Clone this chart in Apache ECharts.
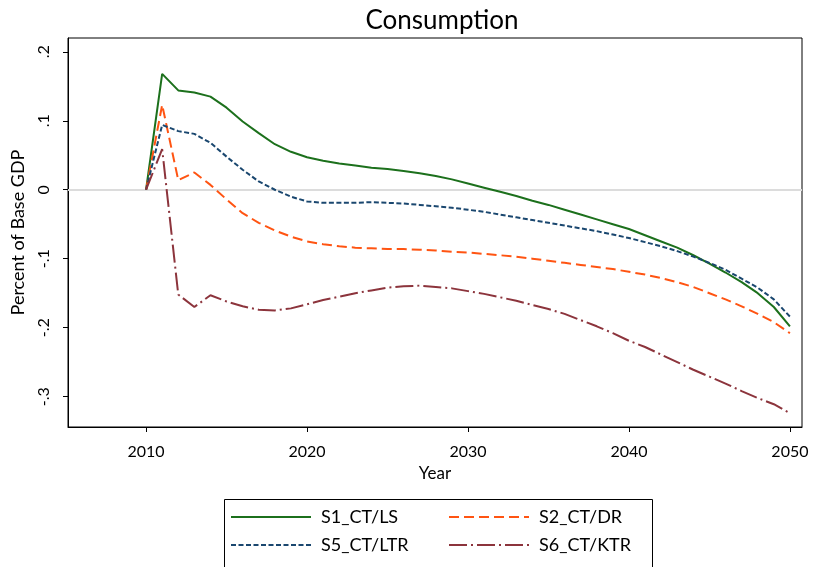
<!DOCTYPE html>
<html>
<head>
<meta charset="utf-8">
<script src="https://cdn.jsdelivr.net/npm/echarts@6/dist/echarts.min.js"></script>
<style>html,body{margin:0;padding:0;background:#fff;}#c{width:814px;height:567px;}</style>
</head>
<body>
<div id="c"></div>
<script>
const years = [2010,2011,2012,2013,2014,2015,2016,2017,2018,2019,2020,2021,2022,2023,2024,2025,2026,2027,2028,2029,2030,2031,2032,2033,2034,2035,2036,2037,2038,2039,2040,2041,2042,2043,2044,2045,2046,2047,2048,2049,2050];
const s1_LS = [0,0.168,0.144,0.141,0.135,0.119,0.099,0.082,0.066,0.055,0.047,0.042,0.038,0.035,0.032,0.030,0.027,0.024,0.020,0.015,0.009,0.003,-0.003,-0.009,-0.016,-0.022,-0.029,-0.036,-0.043,-0.050,-0.057,-0.066,-0.075,-0.084,-0.095,-0.107,-0.120,-0.134,-0.150,-0.170,-0.198];
const s2_DR = [0,0.123,0.014,0.025,0.007,-0.014,-0.034,-0.048,-0.059,-0.068,-0.075,-0.079,-0.082,-0.084,-0.085,-0.086,-0.086,-0.087,-0.088,-0.090,-0.091,-0.093,-0.095,-0.097,-0.100,-0.103,-0.106,-0.109,-0.112,-0.115,-0.119,-0.123,-0.128,-0.134,-0.141,-0.150,-0.159,-0.169,-0.180,-0.192,-0.208];
const s5_LTR = [0,0.094,0.085,0.081,0.068,0.048,0.029,0.012,0.000,-0.010,-0.017,-0.019,-0.019,-0.019,-0.018,-0.019,-0.020,-0.022,-0.024,-0.026,-0.029,-0.032,-0.036,-0.040,-0.044,-0.048,-0.052,-0.056,-0.060,-0.065,-0.070,-0.076,-0.082,-0.089,-0.097,-0.106,-0.116,-0.129,-0.142,-0.159,-0.184];
const s6_KTR = [0,0.059,-0.152,-0.170,-0.153,-0.162,-0.169,-0.174,-0.175,-0.172,-0.166,-0.160,-0.155,-0.150,-0.146,-0.142,-0.140,-0.139,-0.141,-0.143,-0.147,-0.151,-0.156,-0.161,-0.167,-0.173,-0.180,-0.189,-0.198,-0.208,-0.219,-0.228,-0.239,-0.250,-0.261,-0.271,-0.281,-0.292,-0.302,-0.311,-0.324];
const xTicks = [2010,2020,2030,2040,2050];
const yTicks = [-0.3,-0.2,-0.1,0,0.1,0.2];
const seriesNames = ['S1_CT/LS','S2_CT/DR','S5_CT/LTR','S6_CT/KTR'];

const FONT = 'Lato';
const pairs = arr => years.map((y,i)=>[y,arr[i]]);
function yFmt(v){
  if (Math.abs(v) < 1e-9) return '0';
  const s = Math.abs(v).toFixed(1).replace(/^0/,'');
  return (v<0?'-':'') + s;
}
function mkSeries(name, data, color, dash, extra){
  return Object.assign({
    name: name, type: 'line', data: pairs(data), symbol: 'none', showSymbol: false,
    smooth: false, animation: false,
    lineStyle: {color: color, width: 2, type: dash},
    itemStyle: {color: color}
  }, extra || {});
}
const legendCommon = {
  orient: 'vertical', top: 508, height: 58, padding: 0,
  itemWidth: 80, itemHeight: 20, itemGap: 10,
  itemStyle: {opacity: 0, color: 'rgba(0,0,0,0)', borderWidth: 0},
  textStyle: {fontFamily: FONT, fontSize: 18, color: '#000', padding: [0,0,0,5]}
};
const chart = echarts.init(document.getElementById('c'), null, {renderer:'canvas'});
chart.setOption({
  animation: false,
  backgroundColor: '#fff',
  title: {text: 'Consumption', left: 437, top: 3, textAlign: 'center',
    textStyle: {fontFamily: FONT, fontSize: 26, fontWeight: 'normal', color: '#000'}},
  grid: {left: 68, right: 12, top: 38, bottom: 140, show: true, borderColor: '#000', borderWidth: 1,
    backgroundColor: '#fff', containLabel: false, outerBoundsMode: 'none'},
  xAxis: {
    type: 'value', min: 2005.15, max: 2050.75,
    name: 'Year', nameLocation: 'middle', nameGap: 34,
    nameTextStyle: {fontFamily: FONT, fontSize: 17, color: '#000'},
    axisLine: {show: true, onZero: false, lineStyle: {color: '#000', width: 1}},
    axisTick: {show: true, length: 5, customValues: xTicks, lineStyle: {color: '#000'}},
    axisLabel: {customValues: xTicks, margin: 17, fontFamily: FONT, fontSize: 16, color: '#000', formatter: v => String(v)},
    splitLine: {show: false}
  },
  yAxis: {
    type: 'value', min: -0.344, max: 0.22,
    name: 'Percent of Base GDP', nameLocation: 'middle', nameGap: 41, nameRotate: 90,
    nameTextStyle: {fontFamily: FONT, fontSize: 18, color: '#000'},
    axisLine: {show: true, onZero: false, lineStyle: {color: '#000', width: 1}},
    axisTick: {show: true, length: 5, customValues: yTicks, lineStyle: {color: '#000'}},
    axisLabel: {customValues: yTicks, rotate: 90, margin: 16, fontFamily: FONT, fontSize: 16, color: '#000', formatter: yFmt},
    splitLine: {show: false}
  },
  legend: [
    Object.assign({data: [seriesNames[0], seriesNames[2]], left: 230}, legendCommon),
    Object.assign({data: [seriesNames[1], seriesNames[3]], left: 448}, legendCommon)
  ],
  graphic: [
    {type: 'rect', left: 222, top: 497, shape: {width: 428, height: 80},
     style: {fill: 'none', stroke: '#000', lineWidth: 1}, silent: true, z: 0}
  ],
  series: [
    mkSeries(seriesNames[0], s1_LS, '#1c701c', 'solid', {
      markLine: {silent: true, symbol: 'none', label: {show: false},
        lineStyle: {color: '#dcdcdc', width: 2, type: 'solid'}, data: [{yAxis: 0}], z: 1}
    }),
    mkSeries(seriesNames[1], s2_DR, '#ff5412', [10,5]),
    mkSeries(seriesNames[2], s5_LTR, '#1a476f', [5,2.5]),
    mkSeries(seriesNames[3], s6_KTR, '#8c343c', [18,4,2,4])
  ]
});
</script>
</body>
</html>
